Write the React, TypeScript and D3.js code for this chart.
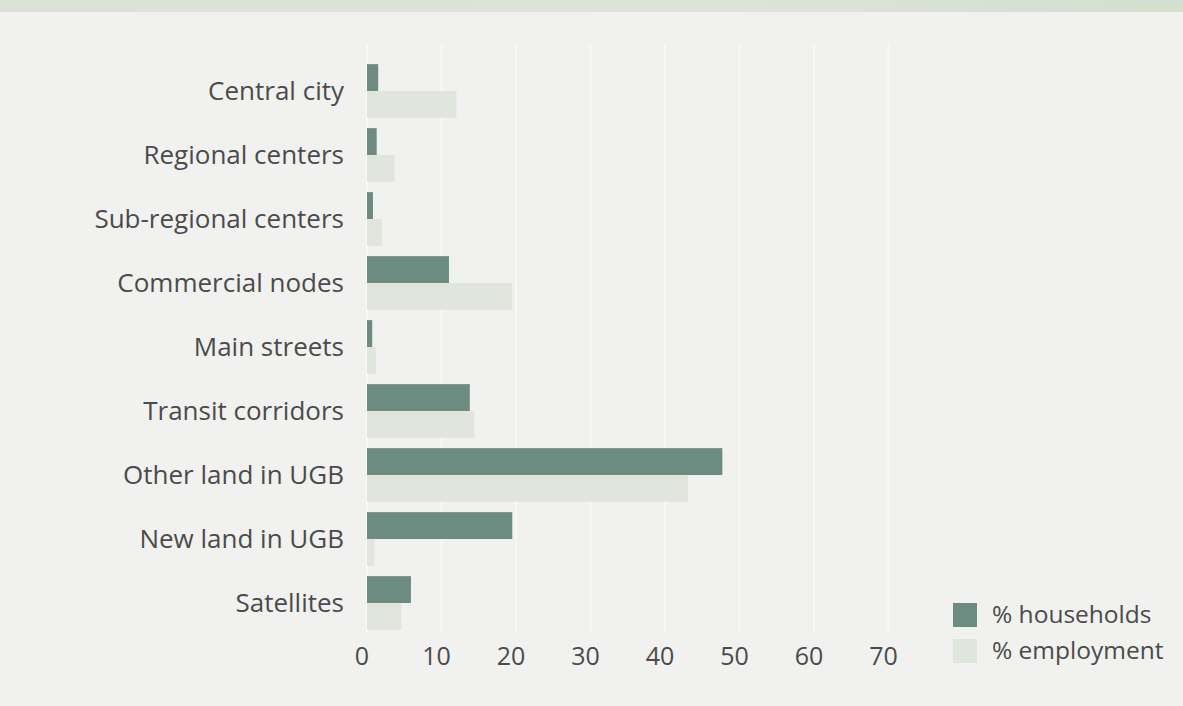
import React from "react";
import * as d3 from "d3";

const categories = [
  "Central city",
  "Regional centers",
  "Sub-regional centers",
  "Commercial nodes",
  "Main streets",
  "Transit corridors",
  "Other land in UGB",
  "New land in UGB",
  "Satellites",
];
const households = [1.5, 1.3, 0.8, 11.0, 0.7, 13.8, 47.7, 19.5, 5.9];
const employment = [12.0, 3.7, 2.0, 19.5, 1.2, 14.4, 43.1, 1.0, 4.6];
const ticks = [0, 10, 20, 30, 40, 50, 60, 70];
const legendLabels = ["% households", "% employment"];

const W = 1183;
const H = 706;
const FONT = "'Open Sans', 'Noto Sans', sans-serif";
const C_HH = "#6d8b80";
const C_EMP = "#e0e5dd";
const TEXT = "#4b4b4b";

export default function App() {
  const x = d3.scaleLinear().domain([0, 70]).range([367, 888.5]);
  const y = d3.scaleBand<string>().domain(categories).range([59, 635]).paddingInner(0.16).paddingOuter(0.08);
  const sub = d3.scaleBand<string>().domain(["h", "e"]).range([0, y.bandwidth()]);

  return (
    <svg
      width={W}
      height={H}
      style={{ position: "absolute", left: 0, top: 0, display: "block" }}
      fontFamily={FONT}
    >
      <defs>
        <linearGradient id="band" x1="0" x2="1" y1="0" y2="0">
          <stop offset="0" stopColor="#d9e2d5" />
          <stop offset="0.6" stopColor="#dce4d8" />
          <stop offset="1" stopColor="#d4dfd0" />
        </linearGradient>
      </defs>
      <rect x={0} y={0} width={W} height={H} fill="#f1f1ef" />
      <rect x={0} y={0} width={W} height={12} fill="url(#band)" />
      {ticks.map((t) => (
        <line key={"g" + t} x1={x(t)} x2={x(t)} y1={45} y2={632} stroke="#f8f8f6" strokeWidth={2} />
      ))}
      {categories.map((c, i) => (
        <g key={c}>
          <rect
            x={x(0)}
            y={(y(c) as number) + (sub("h") as number)}
            width={x(households[i]) - x(0)}
            height={sub.bandwidth()}
            fill={C_HH}
          />
          <rect
            x={x(0)}
            y={(y(c) as number) + (sub("e") as number)}
            width={x(employment[i]) - x(0)}
            height={sub.bandwidth()}
            fill={C_EMP}
          />
          <text
            x={344}
            y={(y(c) as number) + y.bandwidth() / 2}
            dy="0.35em"
            textAnchor="end"
            fontSize={26}
            fill={TEXT}
          >
            {c}
          </text>
        </g>
      ))}
      {ticks.map((t) => (
        <text key={"t" + t} x={x(t) - 5} y={656} dy="0.35em" textAnchor="middle" fontSize={25} fill={TEXT}>
          {t}
        </text>
      ))}
      {legendLabels.map((l, i) => (
        <g key={l} transform={`translate(953, ${603 + i * 36})`}>
          <rect x={0} y={0} width={24} height={24} fill={i === 0 ? C_HH : C_EMP} />
          <text x={39} y={20} fontSize={24.5} fill={TEXT}>
            {l}
          </text>
        </g>
      ))}
    </svg>
  );
}
